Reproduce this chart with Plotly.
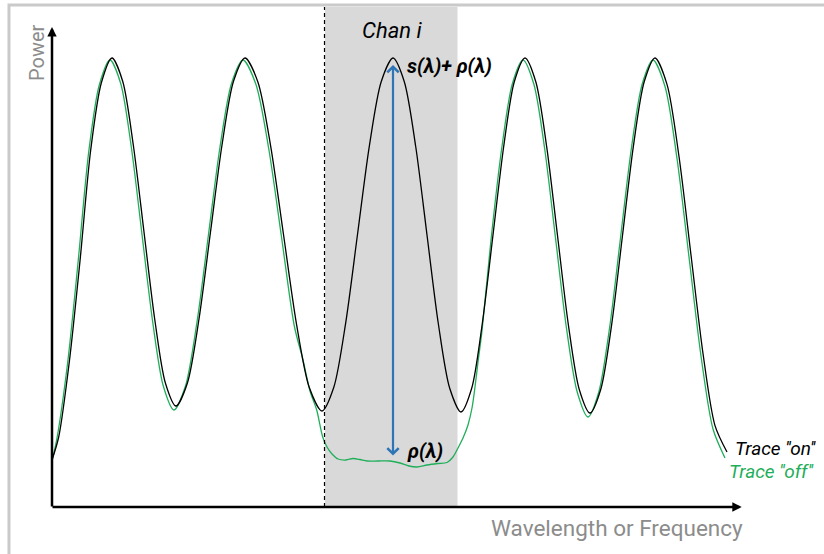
import plotly.graph_objects as go

# Black trace ("on"): position (arbitrary wavelength units) and power (a.u.)
on_x = [0, 6.7, 17.3, 28, 38.7, 49.3, 60,
        70.7, 81.3, 92, 102.7, 113.3, 124,
        135.5, 147, 158.5, 170, 181.5, 193,
        205.8, 218.7, 231.5, 244.3, 257.2, 270,
        281.8, 293.7, 305.5, 317.3, 329.2, 341,
        352.3, 363.7, 375, 386.3, 397.7, 409,
        419.7, 430.3, 441, 451.7, 462.3, 473,
        483.8, 494.7, 505.5, 516.3, 527.2, 538,
        548.8, 559.7, 570.5, 581.3, 592.2, 603,
        615, 627, 639, 651, 663, 675]
on_p = [47, 70, 145, 246, 357, 424, 449,
        425.7, 362, 275, 188, 124.3, 101,
        124.3, 188, 275, 362, 425.7, 449,
        425.3, 360.7, 272.5, 184.2, 119.7, 96,
        119.7, 184.2, 272.5, 360.7, 425.3, 449,
        425.3, 360.5, 272, 183.5, 118.7, 95,
        118.7, 183.5, 272, 360.5, 425.3, 449,
        425.2, 360.2, 271.5, 182.7, 117.8, 94,
        117.8, 182.7, 271.5, 360.2, 425.2, 449,
        422.6, 350.5, 252, 153.5, 81.4, 55]

# Green trace ("off")
off_x = [0, 5, 15.5, 26, 36.7, 47.3, 58,
         68.7, 79.3, 90, 100.7, 111.3, 122,
         133.5, 145, 156.5, 168, 179.5, 191,
         203.8, 216.7, 229.5, 242.3, 251, 258, 264.7, 270.7, 275, 280, 286,
         294, 301, 308, 315, 326, 338, 348, 357, 365, 375, 386, 395,
         401, 406, 411, 416, 420, 423, 426, 430, 439, 449.7, 460.3, 471,
         481.8, 492.7, 503.5, 514.3, 525.2, 536,
         546.8, 557.7, 568.5, 579.3, 590.2, 601,
         613, 625, 637, 649, 661, 673]
off_p = [46, 69, 143, 244, 355, 422, 447,
         423.5, 360, 272.5, 185, 121, 97,
         121, 185, 272.5, 360, 423.5, 447,
         423, 358.5, 270, 181, 147, 116, 97, 70, 60, 53, 48,
         47, 48.5, 47.5, 46, 46, 46, 44, 41, 40, 42, 43.5, 44.5,
         50, 59, 69, 82, 99, 120, 145, 176, 267, 358.5, 423, 447,
         423, 358, 269, 180, 115, 90,
         115, 180, 269, 358, 423, 447,
         420.5, 348.5, 250, 151, 78, 49]

# Channel band and arrow
chan_lo, chan_hi = 273, 405.5
chan_center = 341
peak_level, floor_level = 442, 50

GREEN = "#1fae5a"
BLUE = "#2e75b6"
GRAY_TXT = "#8c8c8c"
FONT = "Roboto"

fig = go.Figure()
fig.add_trace(go.Scatter(x=off_x, y=off_p, mode="lines",
                         line=dict(color=GREEN, width=1.3, shape="spline", smoothing=0.8),
                         hoverinfo="skip"))
fig.add_trace(go.Scatter(x=on_x, y=on_p, mode="lines",
                         line=dict(color="black", width=1.3, shape="spline", smoothing=0.8),
                         hoverinfo="skip"))

shapes = [
    dict(type="rect", xref="x", yref="y", x0=chan_lo, x1=chan_hi, y0=0, y1=500,
         fillcolor="#d9d9d9", line=dict(width=0), layer="below"),
    dict(type="line", xref="x", yref="y", x0=chan_lo - 0.5, x1=chan_lo - 0.5, y0=0, y1=500,
         line=dict(color="black", width=1.2, dash="4px,3px")),
    dict(type="rect", xref="paper", yref="paper", x0=-0.0557, x1=1.01, y0=-0.11, y1=0.9901,
         line=dict(color="#cacaca", width=3), fillcolor="rgba(0,0,0,0)"),
]

ann = [
    # axes arrows
    dict(x=0, y=480, ax=0, ay=-1, xref="x", yref="y", axref="x", ayref="y", text="",
         showarrow=True, arrowhead=2, arrowsize=0.75, arrowwidth=2.5, arrowcolor="black"),
    dict(x=689.7, y=0, ax=-1, ay=0, xref="x", yref="y", axref="x", ayref="y", text="",
         showarrow=True, arrowhead=2, arrowsize=0.75, arrowwidth=2.5, arrowcolor="black"),
    # blue double arrow
    dict(x=chan_center, y=peak_level, ax=chan_center, ay=floor_level, xref="x", yref="y",
         axref="x", ayref="y", text="", showarrow=True, arrowhead=4, startarrowhead=4,
         arrowside="end+start", arrowsize=1, startarrowsize=1, arrowwidth=2.2, arrowcolor=BLUE),
    # texts
    dict(x=-0.0194, y=0.8955, xref="paper", yref="paper", text="Power", showarrow=False,
         textangle=-90, xanchor="center", yanchor="middle",
         font=dict(family=FONT, size=20, color=GRAY_TXT)),
    dict(x=0.8977, y=-0.0414, xref="paper", yref="paper", text="Wavelength or Frequency",
         showarrow=False, xanchor="right", yanchor="middle",
         font=dict(family=FONT, size=22.5, color=GRAY_TXT)),
    dict(x=340, y=477, xref="x", yref="y", text="<i>Chan i</i>", showarrow=False,
         font=dict(family=FONT, size=22, color="black")),
    dict(x=353, y=441, xref="x", yref="y", text="<b><i>s(λ)+ ρ(λ)</i></b>", showarrow=False,
         xanchor="left", font=dict(family=FONT, size=20, color="black")),
    dict(x=353, y=56, xref="x", yref="y", text="<b><i>ρ(λ)</i></b>", showarrow=False,
         xanchor="left", font=dict(family=FONT, size=20, color="black")),
    dict(x=682, y=58.5, xref="x", yref="y", text="<i>Trace ''on''</i>", showarrow=False,
         xanchor="left", yanchor="middle", borderpad=0,
         font=dict(family=FONT, size=19, color="black")),
    dict(x=676, y=35.5, xref="x", yref="y", text="<i>Trace ''off''</i>", showarrow=False,
         xanchor="left", yanchor="middle", borderpad=0,
         font=dict(family=FONT, size=19, color=GREEN)),
]

fig.update_layout(
    width=824, height=554,
    margin=dict(l=52, r=0, t=0, b=47, autoexpand=False),
    paper_bgcolor="white", plot_bgcolor="white",
    showlegend=False,
    shapes=shapes, annotations=ann,
    xaxis=dict(range=[0, 772], visible=False, fixedrange=True),
    yaxis=dict(range=[0, 507], visible=False, fixedrange=True),
)

fig.write_html("out.html", config={"displayModeBar": False},
               post_script="document.body.style.margin='0';")
